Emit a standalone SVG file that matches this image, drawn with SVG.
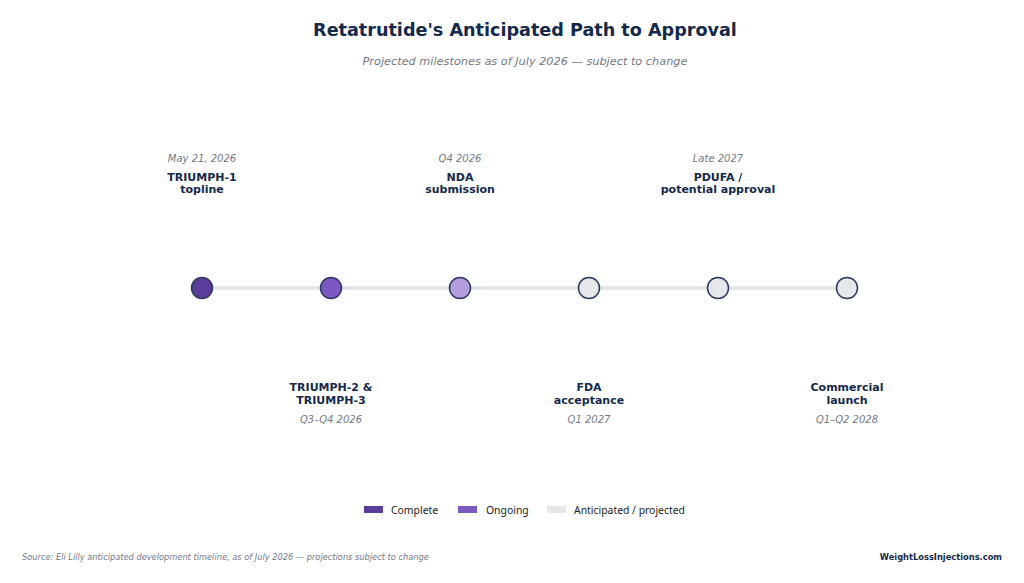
<svg xmlns="http://www.w3.org/2000/svg" width="1024" height="583" viewBox="0 0 1024 583">
<style>
text{font-family:"DejaVu Sans",sans-serif}
.t{font-size:17.6px;font-weight:bold;fill:#14294b;text-anchor:middle}
.st{font-size:11.3px;font-style:italic;fill:#737887;text-anchor:middle}
.d{font-size:10px;font-style:italic;fill:#737887;text-anchor:middle}
.l{font-size:11px;font-weight:bold;fill:#14294b;text-anchor:middle}
.n{stroke:#283b63;stroke-width:1.5}
.lg{font-family:"Noto Sans","DejaVu Sans",sans-serif;font-size:10.4px;fill:#1a1a1a}
.src{font-size:8.25px;font-style:italic;fill:#737887}
.brand{font-size:8.3px;font-weight:bold;fill:#14294b;text-anchor:end}
</style>
<rect width="1024" height="583" fill="#fff"/>
<text class="t" x="525" y="36">Retatrutide's Anticipated Path to Approval</text>
<text class="st" x="525" y="65">Projected milestones as of July 2026 — subject to change</text>
<g id="connectors">
<line x1="202" y1="288" x2="847" y2="288" stroke="#e5e6eb" stroke-width="4"/>
</g>
<g id="n1"><circle class="n" cx="202" cy="288" r="10.5" fill="#5b3d99"/>
<text class="d" x="202" y="162">May 21, 2026</text>
<text class="l" x="202" y="181">TRIUMPH-1</text><text class="l" x="202" y="193">topline</text></g>
<g id="n2"><circle class="n" cx="331" cy="288" r="10.5" fill="#7c59c0"/>
<text class="l" x="331" y="391">TRIUMPH-2 &amp;</text><text class="l" x="331" y="404">TRIUMPH-3</text>
<text class="d" x="331" y="423">Q3–Q4 2026</text></g>
<g id="n3"><circle class="n" cx="460" cy="288" r="10.5" fill="#b39ddf"/>
<text class="d" x="460" y="162">Q4 2026</text>
<text class="l" x="460" y="181">NDA</text><text class="l" x="460" y="193">submission</text></g>
<g id="n4"><circle class="n" cx="589" cy="288" r="10.5" fill="#e5e7eb"/>
<text class="l" x="589" y="391">FDA</text><text class="l" x="589" y="404">acceptance</text>
<text class="d" x="589" y="423">Q1 2027</text></g>
<g id="n5"><circle class="n" cx="718" cy="288" r="10.5" fill="#e5e7eb"/>
<text class="d" x="718" y="162">Late 2027</text>
<text class="l" x="718" y="181">PDUFA /</text><text class="l" x="718" y="193">potential approval</text></g>
<g id="n6"><circle class="n" cx="847" cy="288" r="10.5" fill="#e5e7eb"/>
<text class="l" x="847" y="391">Commercial</text><text class="l" x="847" y="404">launch</text>
<text class="d" x="847" y="423">Q1–Q2 2028</text></g>
<g id="legend">
<rect x="364" y="506" width="19" height="7" fill="#5b3d99"/><text class="lg" x="391" y="513.5">Complete</text>
<rect x="458" y="506" width="19" height="7" fill="#7c59c0"/><text class="lg" x="486" y="513.5">Ongoing</text>
<rect x="547" y="506" width="19" height="7" fill="#e5e7eb"/><text class="lg" x="574" y="513.5">Anticipated / projected</text>
</g>
<text class="src" x="22" y="560">Source: Eli Lilly anticipated development timeline, as of July 2026 — projections subject to change</text>
<text class="brand" x="1002" y="560">WeightLossInjections.com</text>
</svg>
